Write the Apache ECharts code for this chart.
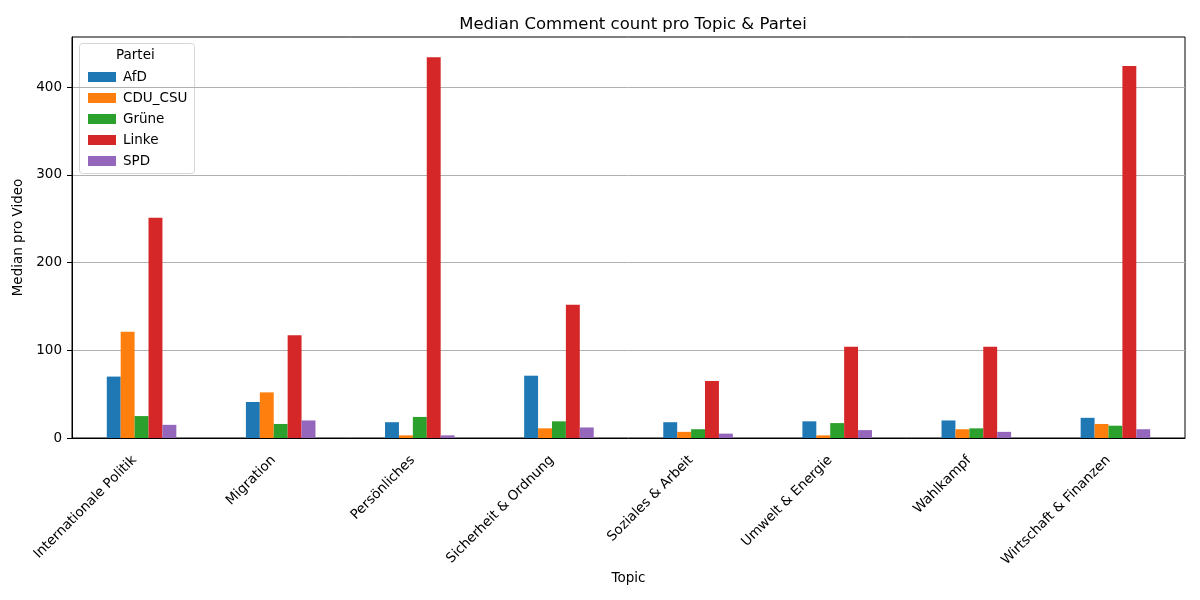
<!DOCTYPE html>
<html>
<head>
<meta charset="utf-8">
<script src="https://cdn.jsdelivr.net/npm/echarts@6/dist/echarts.min.js"></script>
<style>
  html, body { margin: 0; padding: 0; background: #fff; }
  #chart { width: 1200px; height: 600px; }
</style>
</head>
<body>
<div id="chart"></div>
<script>
const topics = ['Internationale Politik', 'Migration', 'Persönliches', 'Sicherheit & Ordnung',
  'Soziales & Arbeit', 'Umwelt & Energie', 'Wahlkampf', 'Wirtschaft & Finanzen'];

const parties = ['AfD', 'CDU_CSU', 'Grüne', 'Linke', 'SPD'];
const colors = ['#1f77b4', '#ff7f0e', '#2ca02c', '#d62728', '#9467bd'];

const afd = [70, 41, 18, 71, 18, 19, 20, 23];
const cduCsu = [121, 52, 3, 11, 7, 3, 10, 16];
const gruene = [25, 16, 24, 19, 10, 17, 11, 14];
const linke = [251, 117, 434, 152, 65, 104, 104, 424];
const spd = [15, 20, 3, 12, 5, 9, 7, 10];

const yTicks = [0, 100, 200, 300, 400];

const seriesValues = [afd, cduCsu, gruene, linke, spd];

const font = 'DejaVu Sans';
const chart = echarts.init(document.getElementById('chart'), null, { renderer: 'canvas' });

chart.setOption({
  animation: false,
  color: colors,
  textStyle: { fontFamily: font, color: '#000' },
  title: {
    text: 'Median Comment count pro Topic & Partei',
    left: 628,
    textAlign: 'center',
    top: 11,
    textStyle: { fontFamily: font, fontSize: 16.5, fontWeight: 'normal', color: '#000' }
  },
  grid: {
    left: 72, right: 15, top: 37, bottom: 162,
    show: true, borderColor: '#000', borderWidth: 1, backgroundColor: 'transparent'
  },
  legend: {
    orient: 'vertical',
    left: 83,
    top: 65,
    icon: 'rect',
    itemWidth: 28,
    itemHeight: 10,
    itemGap: 7,
    textStyle: { fontFamily: font, fontSize: 13.5, color: '#000', padding: [0, 0, 0, 2] },
    data: parties
  },
  graphic: [
    {
      type: 'rect',
      left: 79, top: 43,
      shape: { width: 115, height: 130, r: 3 },
      style: { fill: 'rgba(255,255,255,0.8)', stroke: '#d6d6d6', lineWidth: 1 },
      z: 0
    },
    {
      type: 'text',
      left: 116, top: 48,
      style: { text: 'Partei', font: '13.5px "DejaVu Sans"', fill: '#000' },
      z: 10
    }
  ],
  xAxis: {
    type: 'category',
    data: topics,
    name: 'Topic',
    nameLocation: 'middle',
    nameGap: 133,
    nameMoveOverlap: false,
    nameTextStyle: { fontFamily: font, fontSize: 13.5, color: '#000' },
    axisLine: { lineStyle: { color: '#000', width: 1 } },
    axisTick: { alignWithLabel: true, length: 5, lineStyle: { color: '#000' } },
    axisLabel: {
      rotate: 45, margin: 13, padding: [0, 10, 0, 0],
      fontFamily: font, fontSize: 13.5, color: '#000'
    },
    splitLine: { show: false }
  },
  yAxis: {
    type: 'value',
    min: 0,
    max: 457,
    interval: 100,
    name: 'Median pro Video',
    nameLocation: 'middle',
    nameGap: 45,
    nameTextStyle: { fontFamily: font, fontSize: 13.5, color: '#000' },
    axisLine: { show: true, lineStyle: { color: '#000', width: 1 } },
    axisTick: { show: true, length: 5, customValues: yTicks, lineStyle: { color: '#000' } },
    axisLabel: {
      margin: 10, fontFamily: font, fontSize: 13.5, color: '#000',
      customValues: yTicks
    },
    splitLine: { show: true, lineStyle: { color: '#b0b0b0', width: 1 } }
  },
  series: parties.map((name, i) => ({
    name: name,
    type: 'bar',
    data: seriesValues[i],
    barWidth: '10%',
    barGap: '0%',
    itemStyle: { color: colors[i] }
  }))
});
</script>
</body>
</html>
